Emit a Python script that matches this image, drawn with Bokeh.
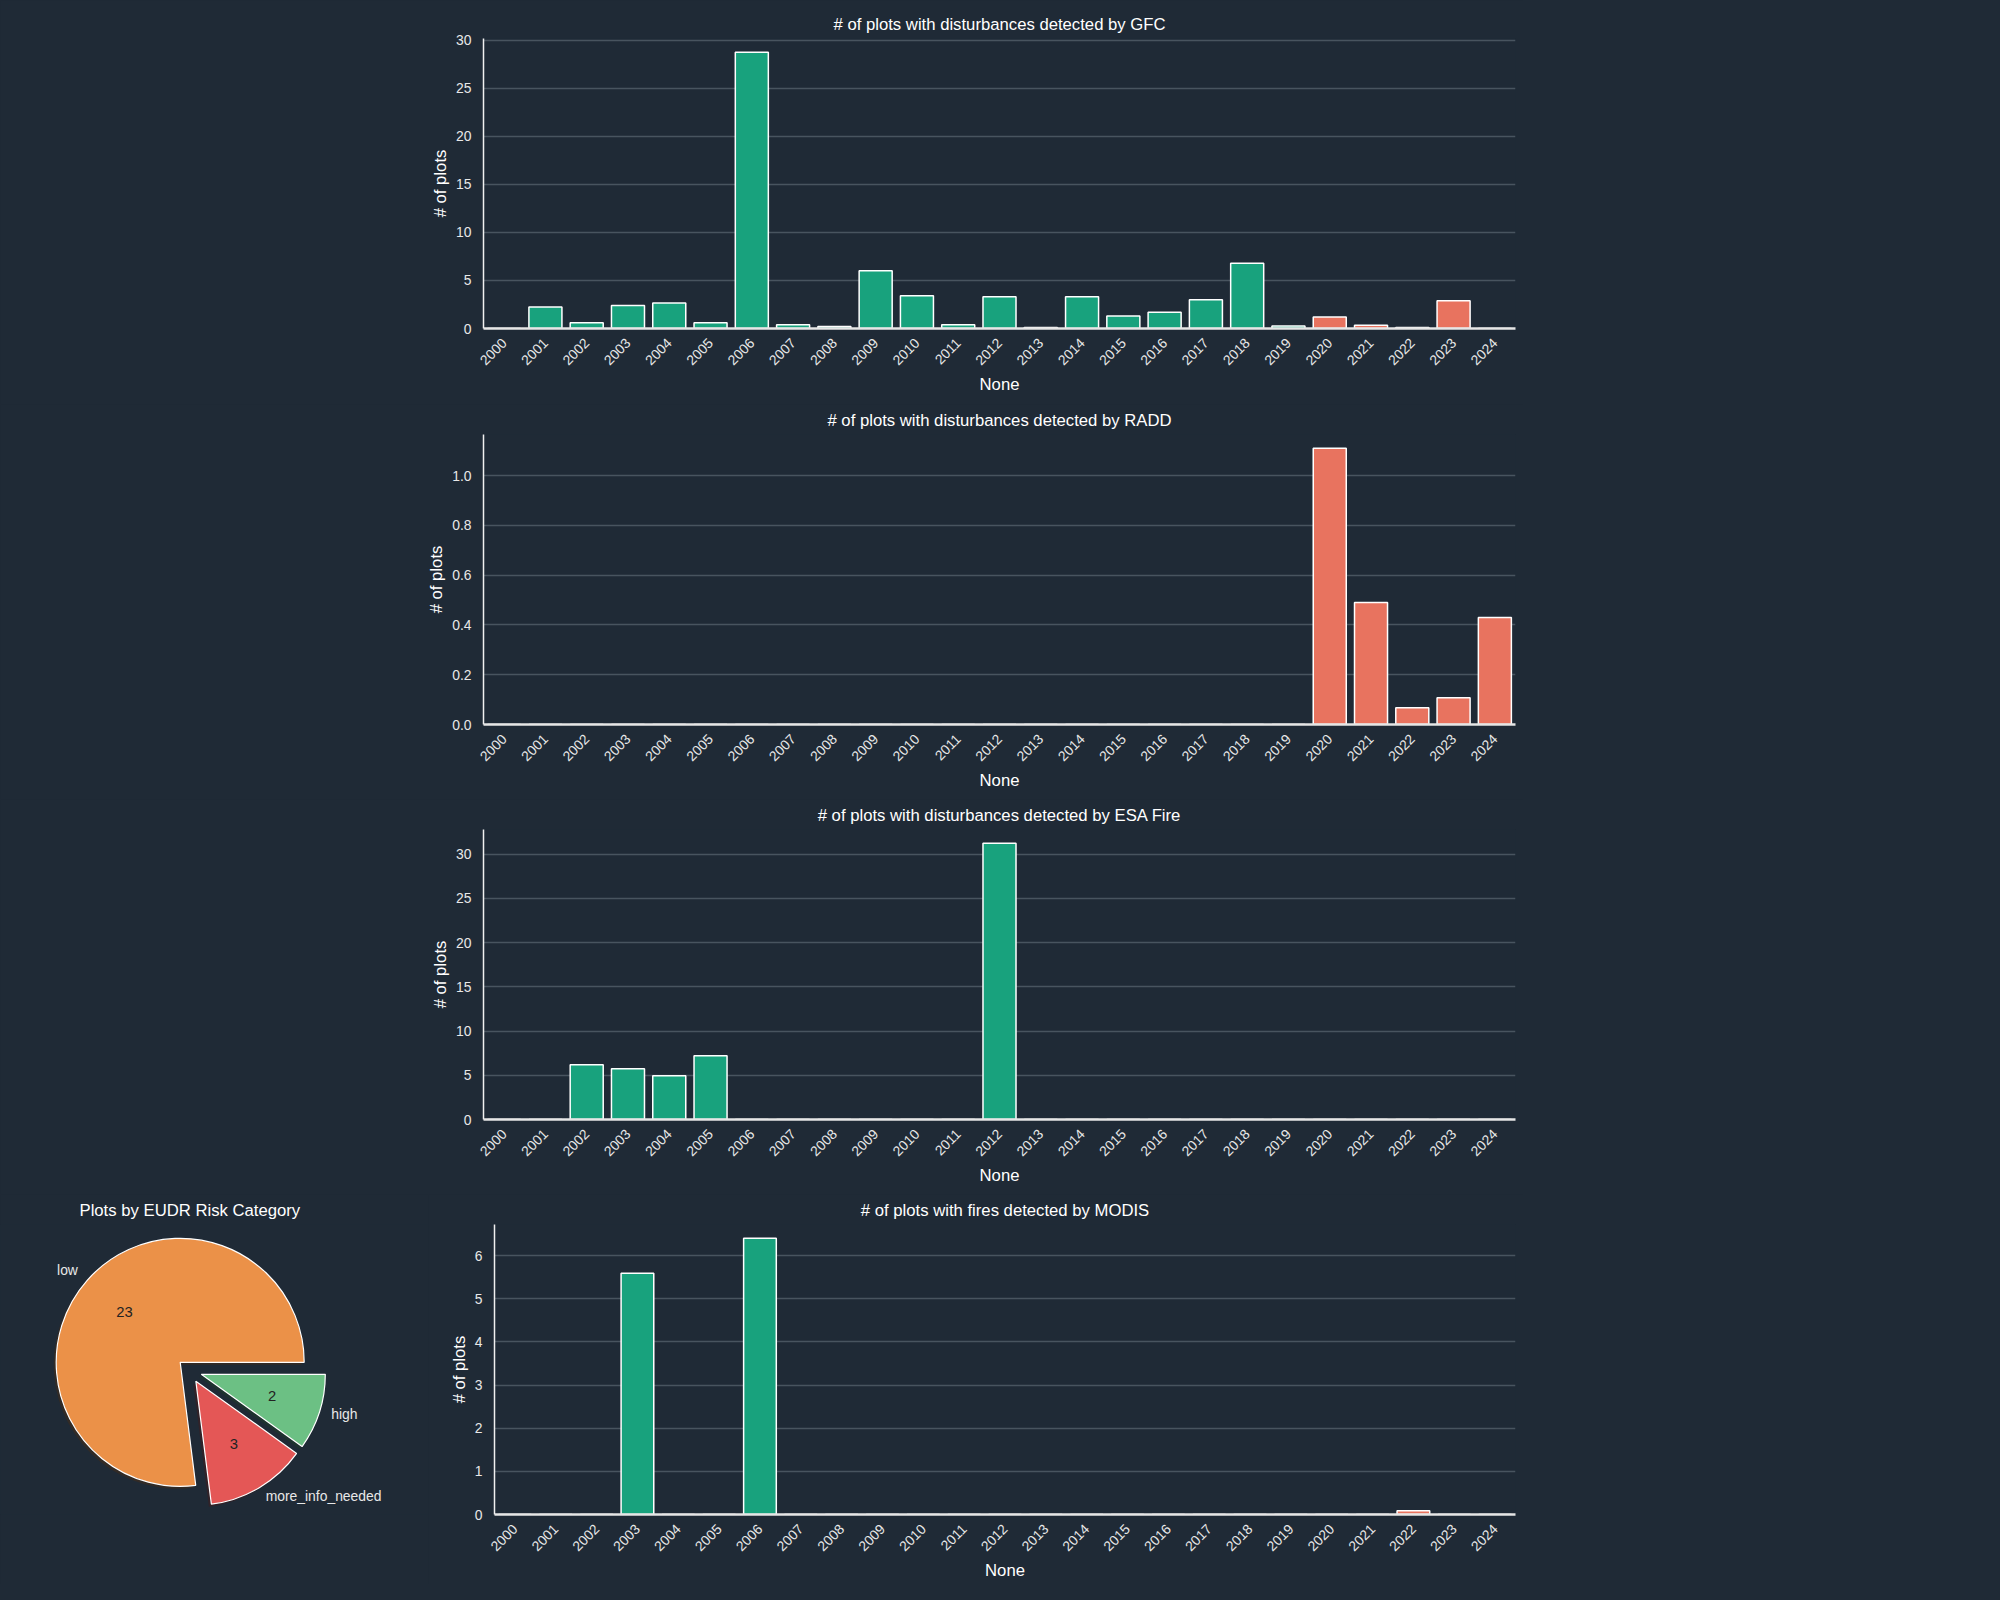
import math
from bokeh.plotting import figure
from bokeh.models import FactorRange, Range1d, FixedTicker, ColumnDataSource
from bokeh.layouts import column, row
from bokeh.core.properties import value
from bokeh.embed import file_html
from bokeh.resources import INLINE

# ---------------- data ----------------
years = ["2000", "2001", "2002", "2003", "2004", "2005", "2006", "2007", "2008",
         "2009", "2010", "2011", "2012", "2013", "2014", "2015", "2016", "2017",
         "2018", "2019", "2020", "2021", "2022", "2023", "2024"]

gfc_counts = [0, 2.25, 0.6, 2.4, 2.65, 0.6, 28.75, 0.4, 0.2, 6.0, 3.4, 0.4, 3.3,
              0.1, 3.3, 1.3, 1.7, 3.0, 6.8, 0.25, 1.2, 0.35, 0.1, 2.9, 0]
radd_counts = [0, 0, 0, 0, 0, 0, 0, 0, 0, 0, 0, 0, 0, 0, 0, 0, 0, 0, 0, 0,
               1.11, 0.49, 0.067, 0.108, 0.43]
esa_counts = [0, 0, 6.2, 5.74, 4.95, 7.2, 0, 0, 0, 0, 0, 0, 31.24, 0, 0, 0, 0, 0,
              0, 0, 0, 0, 0, 0, 0]
modis_counts = [0, 0, 0, 5.59, 0, 0, 6.4, 0, 0, 0, 0, 0, 0, 0, 0, 0, 0, 0, 0, 0,
                0, 0, 0.085, 0, 0]

gfc_ticks = [0, 5, 10, 15, 20, 25, 30]
radd_ticks = [0.0, 0.2, 0.4, 0.6, 0.8, 1.0]
radd_tick_labels = ["0.0", "0.2", "0.4", "0.6", "0.8", "1.0"]
esa_ticks = [0, 5, 10, 15, 20, 25, 30]
modis_ticks = [0, 1, 2, 3, 4, 5, 6]

risk_categories = ["low", "more_info_needed", "high"]
risk_share_pct = [77.0, 13.1, 9.9]
risk_count_labels = ["23", "3", "2"]
risk_colors = ["#eb9148", "#e45756", "#6cc084"]

cutoff_year = 2020

# ---------------- style ----------------
BG = "#1f2a36"
GREEN = "#18a27d"
RED = "#e8735f"
GRID = "#48545f"
TXT = "#e8e8e8"
FONT = "Liberation Sans"
TITLE_SIZE = "16.7px"
TICK_SIZE = "13.9px"


def style_title(t, text):
    t.text = text
    t.text_font = FONT
    t.text_font_size = TITLE_SIZE
    t.text_font_style = "normal"
    t.text_color = "#ffffff"
    t.standoff = 9


def bar_fig(title, vals, ticks, left_border, fw, top_border=30, bottom_border=75,
            tick_overrides=None):
    colors = [GREEN if int(y) < cutoff_year else RED for y in years]
    src = ColumnDataSource(dict(x=years, top=vals, color=colors))
    p = figure(x_range=FactorRange(factors=years), y_range=Range1d(0, max(vals) * 1.05),
               frame_width=fw, frame_height=290,
               min_border_left=left_border, min_border_right=8,
               min_border_top=top_border, min_border_bottom=bottom_border,
               output_backend="svg", toolbar_location=None,
               background_fill_color=BG, border_fill_color=BG,
               outline_line_color=None, align="start")
    p.x_range.range_padding = 0
    p.vbar(x="x", top="top", width=0.8, fill_color="color", line_color="white",
           line_width=1.5, source=src)
    style_title(p.title, title)
    p.title.align = "center"

    p.yaxis.ticker = FixedTicker(ticks=ticks)
    if tick_overrides:
        p.yaxis.major_label_overrides = tick_overrides
    p.xaxis.major_label_orientation = math.pi / 4
    for ax in (p.xaxis[0], p.yaxis[0]):
        ax.major_tick_line_color = None
        ax.minor_tick_line_color = None
        ax.major_tick_out = 0
        ax.major_tick_in = 0
        ax.major_label_standoff = 12
        ax.major_label_text_font = FONT
        ax.major_label_text_font_size = TICK_SIZE
        ax.major_label_text_color = TXT
        ax.axis_label_text_font = FONT
        ax.axis_label_text_font_size = TITLE_SIZE
        ax.axis_label_text_font_style = "normal"
        ax.axis_label_text_color = "#ffffff"
        ax.axis_label_standoff = 3
    p.xaxis.axis_label = "None"
    p.yaxis.axis_label = "# of plots"
    p.xaxis.axis_line_color = "#e6e6e6"
    p.xaxis.axis_line_width = 2.5
    p.yaxis.axis_line_color = "#f0f0f0"
    p.yaxis.axis_line_width = 1.5
    p.xgrid.grid_line_color = None
    p.ygrid.grid_line_color = GRID
    p.ygrid.grid_line_width = 1.5
    return p


p_gfc = bar_fig("# of plots with disturbances detected by GFC", gfc_counts, gfc_ticks,
                483, 1032, top_border=38, bottom_border=76)
p_radd = bar_fig("# of plots with disturbances detected by RADD", radd_counts, radd_ticks,
                 483, 1032, tick_overrides={t: l for t, l in zip(radd_ticks, radd_tick_labels)})
p_esa = bar_fig("# of plots with disturbances detected by ESA Fire", esa_counts, esa_ticks,
                483, 1032)

PIE_W, PIE_H = 428, 290
p_modis = bar_fig("# of plots with fires detected by MODIS", modis_counts, modis_ticks,
                  66, 1021, bottom_border=70)

# ---------------- pie ----------------
pie = figure(x_range=Range1d(0, PIE_W), y_range=Range1d(0, PIE_H),
             frame_width=PIE_W, frame_height=PIE_H,
             min_border_left=0, min_border_right=0,
             min_border_top=30, min_border_bottom=70,
             output_backend="svg", toolbar_location=None, align="start",
             background_fill_color=BG, border_fill_color=BG, outline_line_color=None)
pie.xaxis.visible = False
pie.yaxis.visible = False
pie.grid.visible = False
style_title(pie.title, "Plots by EUDR Risk Category")
pie.title.align = "left"
pie.title.offset = 79

cx, cy, r = 189, 144, 124
explode = 0.1
starts, ends, mids = [], [], []
acc = 0.0
total = sum(risk_share_pct)
for s in risk_share_pct:
    a0 = 2 * math.pi * acc / total
    acc += s
    a1 = 2 * math.pi * acc / total
    starts.append(a0)
    ends.append(a1)
    mids.append((a0 + a1) / 2)
wx = [cx + explode * r * math.cos(m) for m in mids]
wy = [cy + explode * r * math.sin(m) for m in mids]


def darken(h):
    h = h.lstrip("#")
    rr, gg, bb = int(h[0:2], 16), int(h[2:4], 16), int(h[4:6], 16)
    return "#%02x%02x%02x" % (int(rr * 0.3), int(gg * 0.3), int(bb * 0.3))


shadow_src = ColumnDataSource(dict(x=[x - 0.02 * r for x in wx], y=[y - 0.02 * r for y in wy],
                                   s=starts, e=ends, c=[darken(c) for c in risk_colors]))
pie.wedge(x="x", y="y", radius=r, start_angle="s", end_angle="e", fill_color="c",
          fill_alpha=0.5, line_color=None, source=shadow_src)
wedge_src = ColumnDataSource(dict(x=wx, y=wy, s=starts, e=ends, c=risk_colors))
pie.wedge(x="x", y="y", radius=r, start_angle="s", end_angle="e", fill_color="c",
          line_color="white", line_width=1.2, source=wedge_src)

lab_x = [cx + (1.1 + explode) * r * math.cos(m) for m in mids]
lab_y = [cy + (1.1 + explode) * r * math.sin(m) + 2 for m in mids]
lab_align = ["left" if math.cos(m) > 0 else "right" for m in mids]
pie.text(x=lab_x, y=lab_y, text=risk_categories, text_align=lab_align,
         text_baseline="middle", text_font=value(FONT), text_font_size=TICK_SIZE,
         text_color=TXT)
pct_x = [cx + (0.6 + explode) * r * math.cos(m) for m in mids]
pct_y = [cy + (0.6 + explode) * r * math.sin(m) + 1 for m in mids]
pie.text(x=pct_x, y=pct_y, text=risk_count_labels, text_align="center",
         text_baseline="middle", text_font=value(FONT), text_font_size="14.8px",
         text_color="#222222")

layout = column(p_gfc, p_radd, p_esa, row(pie, p_modis, align="start"),
                styles={"background-color": BG})

html = file_html(layout, INLINE)
html = html.replace("<body>", '<body style="background-color:%s;">' % BG)
open("out.html", "w").write(html)
